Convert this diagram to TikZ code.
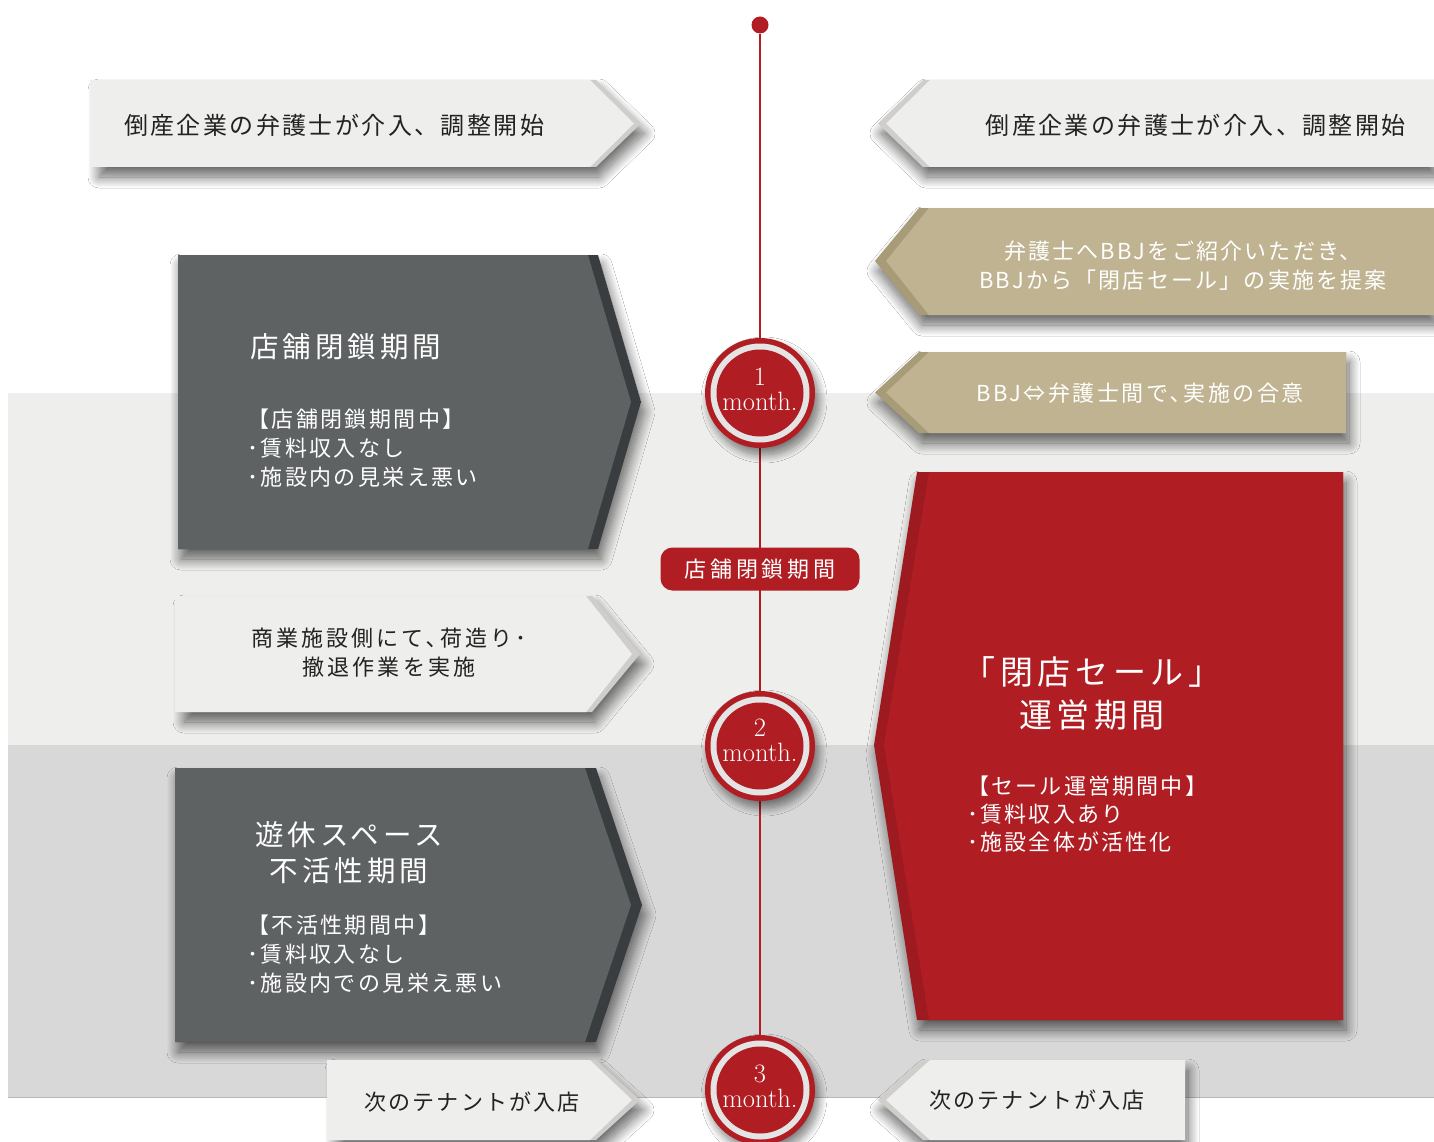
\documentclass[tikz,border=0pt]{standalone}
\usepackage{fontspec}
\newfontfamily\jp{Noto Sans CJK JP}[LetterSpace=10]
\newfontfamily\jpb{Noto Sans CJK JP}[LetterSpace=11]
\newfontfamily\jpw{Noto Sans CJK JP}[LetterSpace=14]
\newfontfamily\jpl{Noto Sans CJK JP}[LetterSpace=18]
\usetikzlibrary{shadows.blur}
\definecolor{lightbox}{HTML}{EEEEEC}
\definecolor{ghostlight}{HTML}{D0CECB}
\definecolor{bandA}{HTML}{EEEEEC}
\definecolor{bandB}{HTML}{D8D8D8}
\definecolor{darkbox}{HTML}{5F6263}
\definecolor{darkedge}{HTML}{393D40}
\definecolor{tanbox}{HTML}{BFB391}
\definecolor{tanedge}{HTML}{A89C78}
\definecolor{redbox}{HTML}{B01E24}
\definecolor{rededge}{HTML}{9C1A20}
\definecolor{ringgray}{HTML}{E4E4E4}
\definecolor{inkdark}{HTML}{222222}
\begin{document}
\begin{tikzpicture}[x=1pt,y=-1pt,
  sh/.style={blur shadow={shadow xshift=3pt, shadow yshift=-10pt, shadow blur radius=11pt, shadow blur steps=16, shadow opacity=60}},
  darktxt/.style={text=inkdark, inner sep=0pt},
  whitetxt/.style={text=white, inner sep=0pt},
  big/.style={font=\jpw\fontsize{28.5}{36}\selectfont},
  bul/.style={font=\jpb\fontsize{22}{29}\selectfont, align=left},
  mid/.style={font=\jp\fontsize{22}{29}\selectfont, align=center},
  tl/.style={draw=redbox, line width=2.8pt},
  monthtxt/.style={text=white, inner sep=0pt, font=\fontsize{26.5}{27}\selectfont}
]
\useasboundingbox (0,0) rectangle (1434,1142);
\fill[white] (0,0) rectangle (1434,1142);
% bands
\fill[bandA] (8,393) rectangle (1434,745);
\fill[bandB] (8,745) rectangle (1434,1097);
\draw[draw=black!28, line width=0.8pt] (8,1097) -- (1434,1097);

% ---------- left column ----------
% top left light arrow
\fill[ghostlight, sh] (96,80) -- (596,80) -- (641,123.5) -- (596,167) -- (96,167) -- cycle;
\fill[lightbox] (90,80) -- (590,80) -- (634,123.5) -- (590,167) -- (90,167) -- cycle;
\node[darktxt, anchor=west, font=\jp\fontsize{24}{28}\selectfont] (t1) at (124,125) {倒産企業の弁護士が介入、調整開始};

% dark box 1
\fill[darkedge, sh] (178,255) -- (598,255) -- (641,402) -- (598,549) -- (178,549) -- cycle;
\fill[darkbox] (178,255) -- (588,255) -- (631,402) -- (588,549) -- (178,549) -- cycle;
\node[whitetxt, anchor=west, big] (d1t) at (250,347) {店舗閉鎖期間};
\node[whitetxt, anchor=west, bul] (d1b) at (247,448) {【店舗閉鎖期間中】\\･賃料収入なし\\･施設内の見栄え悪い};

% light box 2
\fill[ghostlight, sh] (181,596) -- (592,596) -- (640,654) -- (592,712) -- (181,712) -- cycle;
\fill[lightbox] (175,596) -- (586,596) -- (632,654) -- (586,712) -- (175,712) -- cycle;
\node[darktxt, align=center, font=\jpw\fontsize{22}{29}\selectfont] (l2) at (389,653) {商業施設側にて､荷造り･\\撤退作業を実施};

% dark box 2
\fill[darkedge, sh] (175,768) -- (596,768) -- (642,905) -- (596,1042) -- (175,1042) -- cycle;
\fill[darkbox] (175,768) -- (585,768) -- (631,905) -- (585,1042) -- (175,1042) -- cycle;
\node[whitetxt, big, align=center] (d2t) at (349,853) {遊休スペース\\不活性期間};
\node[whitetxt, anchor=west, bul] (d2b) at (247,954) {【不活性期間中】\\･賃料収入なし\\･施設内での見栄え悪い};

% bottom left
\fill[ghostlight, sh] (333,1060) -- (596,1060) -- (640,1100) -- (596,1140) -- (333,1140) -- cycle;
\fill[lightbox] (327,1060) -- (590,1060) -- (632,1100) -- (590,1140) -- (327,1140) -- cycle;
\node[darktxt, font=\jp\fontsize{22}{28}\selectfont] (b1) at (472,1102) {次のテナントが入店};

% ---------- right column ----------
% top right
\fill[ghostlight, sh] (923,80) -- (1434,80) -- (1434,167) -- (923,167) -- (878,123.5) -- cycle;
\fill[lightbox] (930,80) -- (1434,80) -- (1434,167) -- (930,167) -- (886,123.5) -- cycle;
\node[darktxt, anchor=east, font=\jp\fontsize{24}{28}\selectfont] (t2) at (1406,125) {倒産企業の弁護士が介入、調整開始};

% tan 1
\fill[tanedge, sh] (919,208) -- (1434,208) -- (1434,315) -- (919,315) -- (875,261) -- cycle;
\fill[tanbox] (929,208) -- (1434,208) -- (1434,315) -- (929,315) -- (886,261) -- cycle;
\node[whitetxt, mid] (tan1) at (1183,266) {弁護士へBBJをご紹介いただき、\\BBJから「閉店セール」の実施を提案};

% tan 2
\fill[tanedge, sh] (919,352) -- (1346,352) -- (1346,433) -- (919,433) -- (875,392.5) -- cycle;
\fill[tanbox] (929,352) -- (1346,352) -- (1346,433) -- (929,433) -- (886,392.5) -- cycle;
\node[whitetxt, align=center, font=\jpb\fontsize{22}{29}\selectfont] (tan2) at (1140,393) {BBJ⇔弁護士間で､実施の合意};

% red big
\fill[rededge, sh] (917,472) -- (1343,472) -- (1343,1020) -- (917,1020) -- (874,745) -- cycle;
\fill[redbox] (929,472) -- (1343,472) -- (1343,1020) -- (929,1020) -- (884,745) -- cycle;
\node[whitetxt, align=center, font=\jpw\fontsize{33}{43}\selectfont] (rt) at (1092,693) {「閉店セール」\\運営期間};
\node[whitetxt, anchor=west, font=\jp\fontsize{22}{28}\selectfont, align=left] (rb) at (967,814) {【セール運営期間中】\\･賃料収入あり\\･施設全体が活性化};

% bottom right
\fill[ghostlight, sh] (923,1060) -- (1185,1060) -- (1185,1140) -- (923,1140) -- (878,1100) -- cycle;
\fill[lightbox] (930,1060) -- (1185,1060) -- (1185,1140) -- (930,1140) -- (886,1100) -- cycle;
\node[darktxt, font=\jp\fontsize{22}{28}\selectfont] (b2) at (1037,1100) {次のテナントが入店};

% ---------- timeline ----------
\node[circle, fill=redbox, minimum size=17, inner sep=0pt] (dot) at (760,25) {};
\coordinate (m1) at (760,393);
\coordinate (m2) at (760,746);
\coordinate (m3) at (760,1090);
\coordinate (lend) at (760,1142);
\draw[tl] (dot) -- (m1) -- (m2) -- (m3) -- (lend);

% label on line
\node[fill=redbox, rounded corners=12pt, minimum width=199, minimum height=43, text=white, font=\jpl\fontsize{22}{26}\selectfont, inner sep=0pt] (lab) at (760,569) {店舗閉鎖期間};

% month circles
\foreach \m in {m1, m2, m3} {
  \fill[redbox, blur shadow={shadow xshift=4pt, shadow yshift=-7pt, shadow blur radius=8pt, shadow blur steps=12, shadow opacity=50}] (\m) circle (55);
  \fill[ringgray] (\m) circle (49.5);
  \fill[redbox] (\m) circle (43.5);
}
\node[monthtxt, anchor=base] (n1) at (760,385) {1};
\node[monthtxt, anchor=base] (c1) at (760,410) {month.};
\node[monthtxt, anchor=base] (n2) at (760,736) {2};
\node[monthtxt, anchor=base] (c2) at (760,761) {month.};
\node[monthtxt, anchor=base] (n3) at (760,1082) {3};
\node[monthtxt, anchor=base] (c3) at (760,1107) {month.};
\end{tikzpicture}
\end{document}
